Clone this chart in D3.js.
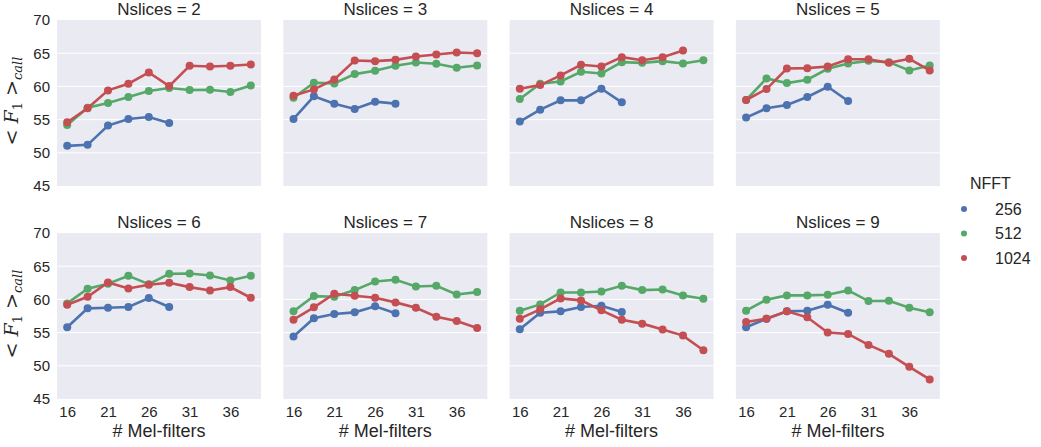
<!DOCTYPE html>
<html>
<head>
<meta charset="utf-8">
<script src="https://cdn.jsdelivr.net/npm/d3@7"></script>
<style>
  body { margin: 0; background: #fff; }
  svg { font-family: "Liberation Sans", Arial, sans-serif; }
  .tick text { fill: #262626; }
</style>
</head>
<body>
<div id="wrapper"></div>
<script>
// x positions (# Mel-filters) and tick labels
const melFilters = [16, 18.5, 21, 23.5, 26, 28.5, 31, 33.5, 36, 38.5]
const xTicks = [16, 21, 26, 31, 36]
const yTicks = [45, 50, 55, 60, 65, 70]
const nslices = [2, 3, 4, 5, 6, 7, 8, 9]
const nfft = ["256", "512", "1024"]
const colors = ["#4C72B0", "#55A868", "#C44E52"]

// <F1>_call per Nslices (one row per panel)
const f1Nfft256 = [
  [51.05, 51.2, 54.1, 55.1, 55.4, 54.5],
  [55.1, 58.5, 57.4, 56.6, 57.7, 57.4],
  [54.7, 56.5, 57.9, 57.9, 59.65, 57.6],
  [55.3, 56.7, 57.2, 58.4, 59.95, 57.8],
  [55.8, 58.65, 58.75, 58.85, 60.2, 58.85],
  [54.4, 57.15, 57.8, 58.05, 58.95, 57.9],
  [55.5, 58.0, 58.2, 58.85, 59.05, 58.1],
  [55.8, 57.1, 58.2, 58.3, 59.2, 58.0],
]
const f1Nfft512 = [
  [54.2, 56.8, 57.5, 58.4, 59.3, 59.75, 59.45, 59.5, 59.15, 60.15],
  [58.3, 60.55, 60.45, 61.85, 62.35, 63.1, 63.6, 63.4, 62.8, 63.15],
  [58.1, 60.4, 60.75, 62.2, 61.95, 63.65, 63.55, 63.8, 63.45, 63.95],
  [57.95, 61.2, 60.5, 61.0, 62.65, 63.45, 63.85, 63.65, 62.4, 63.15],
  [59.4, 61.6, 62.35, 63.55, 62.3, 63.85, 63.9, 63.6, 62.85, 63.55],
  [58.2, 60.5, 60.4, 61.4, 62.7, 62.95, 61.95, 62.05, 60.75, 61.1],
  [58.3, 59.25, 61.05, 61.05, 61.2, 62.05, 61.4, 61.5, 60.6, 60.1],
  [58.3, 59.95, 60.6, 60.6, 60.7, 61.35, 59.75, 59.8, 58.75, 58.05],
]
const f1Nfft1024 = [
  [54.6, 56.7, 59.4, 60.4, 62.1, 60.05, 63.1, 63.0, 63.1, 63.3],
  [58.6, 59.55, 61.05, 63.9, 63.8, 64.0, 64.5, 64.8, 65.1, 65.0],
  [59.65, 60.2, 61.65, 63.25, 63.0, 64.4, 63.95, 64.4, 65.4],
  [57.95, 59.6, 62.7, 62.75, 63.0, 64.1, 64.1, 63.55, 64.15, 62.4],
  [59.2, 60.4, 62.55, 61.65, 62.2, 62.5, 61.85, 61.35, 61.85, 60.25],
  [56.95, 58.8, 60.85, 60.55, 60.25, 59.55, 58.75, 57.4, 56.75, 55.7],
  [57.1, 58.5, 60.15, 59.85, 58.35, 56.95, 56.35, 55.45, 54.55, 52.35],
  [56.6, 57.1, 58.2, 57.3, 55.0, 54.8, 53.15, 51.8, 49.85, 47.95],
]
const seriesByNfft = [f1Nfft256, f1Nfft512, f1Nfft1024]

const width = 1041
const height = 447
const panel = { left: 57, step: 226.3, width: 204, height: 166, tops: [20, 233] }

const svg = d3.select("#wrapper").append("svg")
  .attr("width", width)
  .attr("height", height)

const xScale = d3.scaleLinear()
  .domain([melFilters[0] - 1.25, melFilters[melFilters.length - 1] + 1.25])
  .range([0, panel.width])
const yScale = d3.scaleLinear()
  .domain([45, 70])
  .range([panel.height, 0])

const line = d3.line()
  .x((d, i) => xScale(melFilters[i]))
  .y((d) => yScale(d))

nslices.forEach((ns, k) => {
  const row = Math.floor(k / 4)
  const col = k % 4
  const g = svg.append("g")
    .attr("transform", `translate(${panel.left + col * panel.step},${panel.tops[row]})`)

  g.append("rect")
    .attr("width", panel.width)
    .attr("height", panel.height)
    .attr("fill", "#EAEAF2")

  // grid
  g.selectAll(".grid")
    .data(yTicks.slice(1, -1))
    .join("line")
    .attr("x1", 0)
    .attr("x2", panel.width)
    .attr("y1", (d) => yScale(d))
    .attr("y2", (d) => yScale(d))
    .attr("stroke", "#fff")
    .attr("stroke-width", 1)

  // series
  seriesByNfft.forEach((series, s) => {
    const vals = series[k]
    g.append("path")
      .attr("d", line(vals))
      .attr("fill", "none")
      .attr("stroke", colors[s])
      .attr("stroke-width", 2.6)
    g.selectAll(null)
      .data(vals)
      .join("circle")
      .attr("cx", (d, i) => xScale(melFilters[i]))
      .attr("cy", (d) => yScale(d))
      .attr("r", 4)
      .attr("fill", colors[s])
  })

  g.append("text")
    .attr("x", panel.width / 2)
    .attr("y", -5)
    .attr("text-anchor", "middle")
    .attr("font-size", 17)
    .attr("fill", "#262626")
    .text(`Nslices = ${ns}`)

  if (col === 0) {
    const yAxis = g.append("g")
      .call(d3.axisLeft(yScale).tickValues(yTicks).tickSize(0).tickPadding(7))
    yAxis.select(".domain").remove()
    yAxis.selectAll("text").attr("font-size", 15)

    // < F_1 >_call
    const label = g.append("text")
      .attr("transform", `translate(${18 - panel.left},${panel.height / 2 - 2}) rotate(-90)`)
      .attr("text-anchor", "middle")
      .attr("fill", "#262626")
      .attr("font-size", 19)
      .attr("font-family", "'DejaVu Serif', serif")
    label.append("tspan").text("< ")
    label.append("tspan").attr("font-style", "italic").text("F")
    label.append("tspan").attr("font-size", 13).attr("dy", 4).text("1")
    label.append("tspan").attr("dy", -4).text(" >")
    label.append("tspan").attr("font-size", 13).attr("font-style", "italic").attr("dy", 4).text("call")
  }

  if (row === 1) {
    const xAxis = g.append("g")
      .attr("transform", `translate(0,${panel.height})`)
      .call(d3.axisBottom(xScale).tickValues(xTicks).tickSize(0).tickPadding(7))
    xAxis.select(".domain").remove()
    xAxis.selectAll("text").attr("font-size", 15)

    g.append("text")
      .attr("x", panel.width / 2)
      .attr("y", panel.height + 38)
      .attr("text-anchor", "middle")
      .attr("font-size", 18)
      .attr("fill", "#262626")
      .text("# Mel-filters")
  }
})

// legend
const legend = svg.append("g").attr("transform", "translate(964,0)")
legend.append("text")
  .attr("x", 6)
  .attr("y", 189)
  .attr("font-size", 16)
  .attr("fill", "#262626")
  .text("NFFT")
nfft.forEach((n, i) => {
  const y = 209 + i * 24.5
  legend.append("circle")
    .attr("cx", 0)
    .attr("cy", y)
    .attr("r", 3)
    .attr("fill", colors[i])
  legend.append("text")
    .attr("x", 31)
    .attr("y", y)
    .attr("dy", "0.35em")
    .attr("font-size", 16)
    .attr("fill", "#262626")
    .text(n)
})
</script>
</body>
</html>
